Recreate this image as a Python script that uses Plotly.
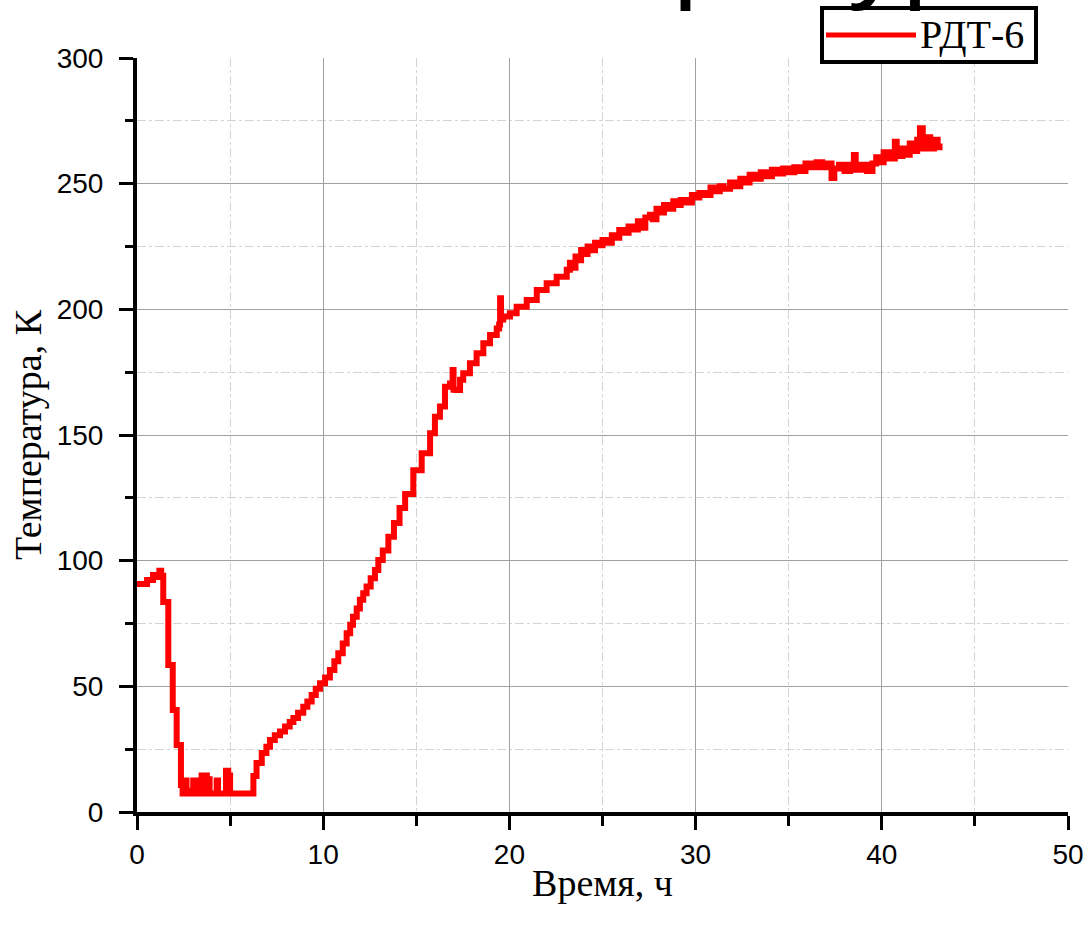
import plotly.graph_objects as go

# ---- data ----
time_h = [
    0.00, 0.54, 0.86, 1.05, 1.20, 1.30, 1.41, 1.68, 1.92, 2.13, 2.36, 2.45,
    2.58, 2.66, 2.85, 3.02, 3.08, 3.15, 3.22, 3.47, 3.55, 3.65, 3.75, 3.83,
    3.90, 4.28, 4.35, 4.78, 4.90, 5.00, 6.25, 6.42, 6.70, 6.95, 7.14, 7.40,
    7.68, 7.95, 8.20, 8.40, 8.65, 8.93, 9.15, 9.38, 9.60, 9.83, 10.10, 10.36,
    10.60, 10.81, 11.05, 11.26, 11.45, 11.60, 11.80, 11.97, 12.15, 12.33,
    12.55, 12.78, 12.96, 13.20, 13.50, 13.80, 14.10, 14.40, 14.84, 15.29,
    15.74, 16.00, 16.27, 16.54, 16.81, 16.95, 17.00, 17.17, 17.35, 17.52,
    17.88, 18.24, 18.60, 18.96, 19.32, 19.45, 19.50, 19.55, 19.67, 20.03,
    20.39, 20.93, 21.47, 22.00, 22.54, 23.08, 23.25, 23.40, 23.55, 23.70,
    23.85, 24.00, 24.20, 24.40, 24.60, 24.80, 25.00, 25.20, 25.50, 25.70,
    25.90, 26.10, 26.40, 26.60, 26.90, 27.10, 27.30, 27.55, 27.70, 27.90,
    28.10, 28.30, 28.50, 28.80, 29.00, 29.20, 29.50, 29.80, 30.00, 30.20,
    30.50, 30.80, 31.00, 31.30, 31.50, 31.85, 32.10, 32.40, 32.60, 32.90,
    33.20, 33.50, 33.80, 34.10, 34.40, 34.70, 35.00, 35.30, 35.60, 35.90,
    36.20, 36.50, 36.80, 37.10, 37.30, 37.45, 37.70, 38.00, 38.30, 38.50,
    38.60, 38.90, 39.20, 39.50, 39.70, 39.90, 40.10, 40.40, 40.70, 40.80,
    41.10, 41.30, 41.50, 41.70, 41.90, 42.05, 42.20, 42.40, 42.60, 42.80,
    43.00, 43.10,
]
temp_k = [
    90.7, 92.3, 94.3, 93.5, 96.0, 94.0, 83.6, 58.5, 40.6, 26.7, 10.7, 7.4,
    12.5, 7.4, 8.5, 12.5, 7.4, 12.5, 7.4, 14.5, 8.0, 14.5, 7.4, 13.0,
    7.4, 12.5, 7.4, 16.4, 14.5, 7.4, 14.3, 19.5, 23.5, 26.0, 28.6, 30.5,
    32.0, 34.0, 35.8, 37.4, 39.5, 41.9, 44.0, 46.6, 49.0, 51.2, 53.5, 56.5,
    60.0, 63.2, 67.0, 71.1, 74.5, 77.7, 81.0, 84.4, 87.0, 89.7,
    93.0, 96.3, 100.3, 104.0, 109.5, 115.0, 121.0, 126.5, 136.0, 142.7,
    150.7, 157.3, 161.3, 169.2, 170.5, 175.9, 168.0, 167.9, 172.0, 174.6,
    178.5, 182.5, 186.5, 189.8, 192.4, 194.0, 204.4, 196.0, 197.1, 198.4,
    201.0, 203.7, 207.7, 210.4, 213.0, 215.7, 218.5, 216.5, 221.0, 219.5,
    223.6, 222.0, 225.0, 223.5, 226.5, 225.5, 227.6, 226.5, 229.5, 228.5,
    231.6, 230.5, 233.0, 231.8, 235.0, 232.5, 236.5, 237.6, 235.8, 240.0,
    238.5, 241.5, 240.0, 243.0, 241.5, 243.5, 242.5, 245.5, 244.5, 246.3,
    245.5, 248.5, 247.0, 249.0, 248.0, 250.5, 249.0, 252.0, 250.5, 253.5,
    252.0, 254.5, 253.0, 255.5, 254.0, 256.0, 254.5, 256.5, 255.0, 258.0,
    256.5, 258.5, 256.5, 258.0, 252.3, 256.0, 257.5, 255.0, 257.5, 261.4,
    255.5, 257.5, 255.0, 258.0, 260.5, 258.5, 262.5, 260.0, 266.7, 261.0,
    264.0, 261.5, 266.0, 263.0, 267.5, 272.0, 264.0, 268.5, 264.0, 267.5,
    264.5, 266.0,
]
series_name = "РДТ-6"
title_text = "Отчет температуры"
x_ticks = [0, 10, 20, 30, 40, 50]
y_ticks = [0, 50, 100, 150, 200, 250, 300]

# plot-area geometry in pixels
W, H = 1090, 937
L, R, T, B = 137, 22, 58, 125
PW, PH = W - L - R, H - T - B


def px_x(p):
    return (p - L) / PW


def px_y(p):
    return (H - B - p) / PH


fig = go.Figure()
fig.add_trace(go.Scatter(
    x=time_h, y=temp_k, mode="lines", name=series_name,
    line=dict(color="#ff0000", width=6, shape="hv"),
    showlegend=False,
))

axis_common = dict(
    showline=True, linecolor="black", linewidth=4,
    ticks="outside", ticklen=14, tickwidth=3, tickcolor="black",
    showgrid=True, gridcolor="#a0a0a0", gridwidth=1,
    zeroline=False,
    tickfont=dict(family="Liberation Sans, Arial, sans-serif", size=28, color="black"),
)

fig.update_xaxes(
    range=[0, 50], tickvals=x_ticks, ticktext=[str(v) for v in x_ticks],
    minor=dict(dtick=5, ticks="outside", ticklen=10, tickwidth=3, tickcolor="black",
               showgrid=True, gridcolor="#d4d4d4", griddash="dashdot", gridwidth=1),
    title=dict(text="Время, ч", standoff=2,
               font=dict(family="Liberation Serif, Times New Roman, serif", size=38, color="black")),
    ticklabelstandoff=0,
    automargin=False,
    **axis_common,
)
fig.update_yaxes(
    range=[0, 300], tickvals=y_ticks, ticktext=[str(v) for v in y_ticks],
    minor=dict(dtick=25, ticks="outside", ticklen=8, tickwidth=3, tickcolor="black",
               showgrid=True, gridcolor="#d4d4d4", griddash="dashdot", gridwidth=1),
    title=dict(text="Температура, К", standoff=4,
               font=dict(family="Liberation Serif, Times New Roman, serif", size=38, color="black")),
    ticklabelstandoff=10,
    automargin=False,
    **axis_common,
)

# big title, mostly above the visible page (as in the reference)
fig.add_annotation(
    text=title_text, xref="paper", yref="paper",
    x=px_x(21), y=px_y(14), xanchor="left", yanchor="bottom",
    showarrow=False,
    font=dict(family="Liberation Sans, Arial, sans-serif", size=112, color="black"),
)

# legend box drawn in the style of the reference
fig.add_shape(type="rect", xref="paper", yref="paper",
              x0=px_x(822), x1=px_x(1036), y0=px_y(62), y1=px_y(8),
              line=dict(color="black", width=4), fillcolor="white", layer="above")
fig.add_shape(type="line", xref="paper", yref="paper",
              x0=px_x(826), x1=px_x(916), y0=px_y(35), y1=px_y(35),
              line=dict(color="#ff0000", width=5), layer="above")
fig.add_annotation(
    text=series_name, xref="paper", yref="paper",
    x=px_x(918), y=px_y(35), xanchor="left", yanchor="middle",
    showarrow=False,
    font=dict(family="Liberation Serif, Times New Roman, serif", size=40, color="black"),
)

fig.update_layout(
    width=W, height=H,
    margin=dict(l=L, r=R, t=T, b=B, autoexpand=False),
    paper_bgcolor="white", plot_bgcolor="white",
    showlegend=False,
)

fig.write_html("out.html", config={"displayModeBar": False},
               post_script="document.body.style.margin='0';")
